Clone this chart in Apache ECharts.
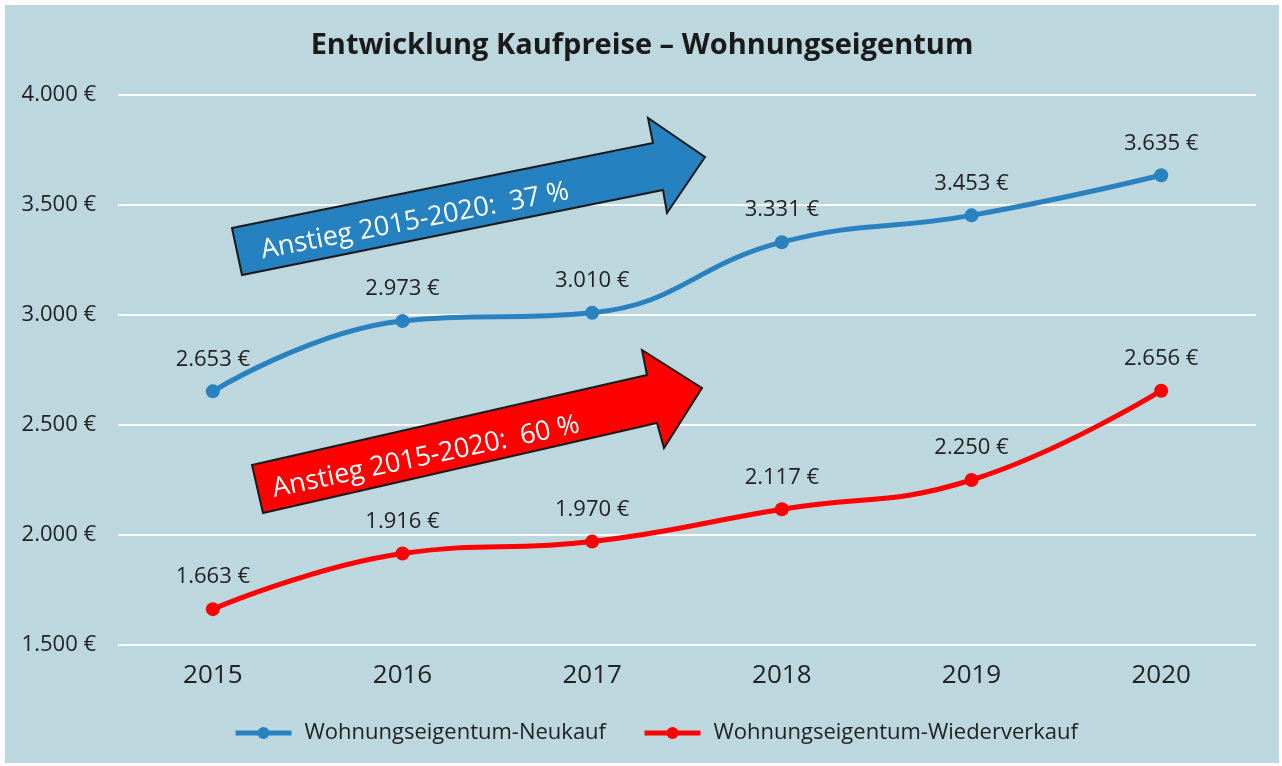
<!DOCTYPE html>
<html>
<head>
<meta charset="utf-8">
<script src="https://cdn.jsdelivr.net/npm/echarts@6/dist/echarts.min.js"></script>
<style>
    html, body { margin: 0; padding: 0; background: #ffffff; }
    #chart {
        position: absolute;
        left: 5px;
        top: 5px;
        width: 1274px;
        height: 758px;
        background: #bdd7de;
    }
</style>
</head>
<body>
<div id="chart"></div>
<script>
    var years = ['2015', '2016', '2017', '2018', '2019', '2020'];
    var neukauf = [2653, 2973, 3010, 3331, 3453, 3635];
    var wiederverkauf = [1663, 1916, 1970, 2117, 2250, 2656];
    var seriesNames = ['Wohnungseigentum-Neukauf', 'Wohnungseigentum-Wiederverkauf'];
    var arrowTexts = ['Anstieg 2015-2020:  37 %', 'Anstieg 2015-2020:  60 %'];

    var blue = '#2a81c0';
    var red = '#ff0000';
    var font = '"Open Sans", "Noto Sans", sans-serif';

    // 2.653 €
    function euro(v) {
        return String(v).replace(/\B(?=(\d{3})+(?!\d))/g, '.') + ' €';
    }

    function lineSeries(name, data, color) {
        return {
            name: name,
            type: 'line',
            data: data,
            smooth: 0.45,
            symbol: 'circle',
            symbolSize: 14,
            lineStyle: { color: color, width: 5 },
            itemStyle: { color: color },
            label: {
                show: true,
                position: 'top',
                distance: 14,
                color: '#222',
                fontFamily: font,
                fontSize: 22,
                formatter: function (p) { return euro(p.value); }
            }
        };
    }

    function deg(a) { return a * Math.PI / 180; }

    var chart = echarts.init(document.getElementById('chart'));
    chart.setOption({
        backgroundColor: 'transparent',
        animation: false,
        title: {
            text: 'Entwicklung Kaufpreise – Wohnungseigentum',
            left: 'center',
            top: 21,
            textStyle: { fontFamily: font, fontWeight: 'bold', fontSize: 29, color: '#1a1a1a' }
        },
        grid: { left: 113, right: 23, top: 90, bottom: 118 },
        legend: {
            data: seriesNames,
            left: 223,
            top: 712,
            itemWidth: 56,
            itemHeight: 15,
            itemGap: 36,
            lineStyle: { width: 5 },
            textStyle: { fontFamily: font, fontSize: 22, color: '#222', padding: [0, 0, 0, 8] }
        },
        xAxis: {
            type: 'category',
            data: years,
            boundaryGap: true,
            axisLine: { show: false },
            axisTick: { show: false },
            axisLabel: { color: '#222', fontFamily: font, fontSize: 26, margin: 18 }
        },
        yAxis: {
            type: 'value',
            min: 1500,
            max: 4000,
            interval: 500,
            axisLine: { show: false },
            axisTick: { show: false },
            axisLabel: { color: '#222', fontFamily: font, fontSize: 22, margin: 22, formatter: euro },
            splitLine: { lineStyle: { color: '#ffffff', width: 2 } }
        },
        series: [
            lineSeries(seriesNames[0], neukauf, blue),
            lineSeries(seriesNames[1], wiederverkauf, red)
        ],
        graphic: [
            {
                type: 'polygon',
                z: 10,
                shape: { points: [[227, 223], [648, 138], [643, 113], [700, 152], [662, 208], [658, 185], [237, 270]] },
                style: { fill: '#2581bf', stroke: '#1a1a1a', lineWidth: 2 }
            },
            {
                type: 'text',
                z: 11,
                x: 410,
                y: 216,
                rotation: deg(11),
                style: { text: arrowTexts[0], fill: '#ffffff', font: '27px ' + font, align: 'center', verticalAlign: 'middle' }
            },
            {
                type: 'polygon',
                z: 10,
                shape: { points: [[247, 460], [642, 370], [637, 345], [697, 383], [659, 443], [652, 418], [258, 508]] },
                style: { fill: '#ff0000', stroke: '#1a1a1a', lineWidth: 2 }
            },
            {
                type: 'text',
                z: 11,
                x: 421,
                y: 452,
                rotation: deg(12),
                style: { text: arrowTexts[1], fill: '#ffffff', font: '27px ' + font, align: 'center', verticalAlign: 'middle' }
            }
        ]
    });
</script>
</body>
</html>
